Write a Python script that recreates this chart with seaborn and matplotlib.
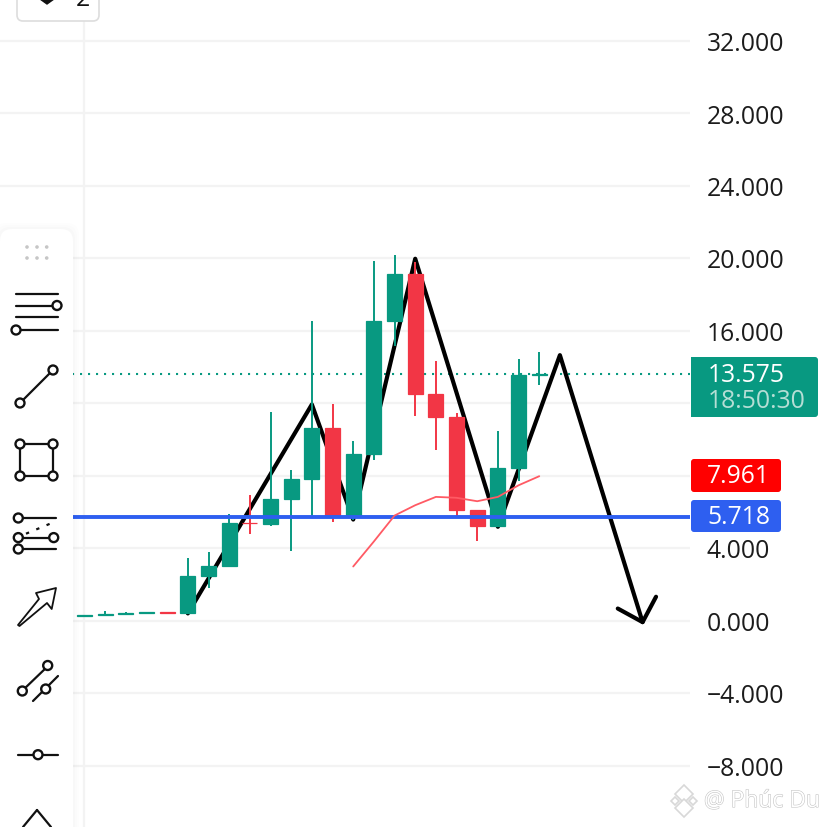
import pandas as pd
import seaborn as sns
import matplotlib.pyplot as plt
from matplotlib.patches import FancyBboxPatch, Circle, Polygon
import matplotlib.patheffects as pe

# candles, values in thousands
candle_idx = list(range(23))
opens = [0.25, 0.32, 0.36, 0.42, 0.46, 0.39, 2.43, 3.03, 5.39, 5.30, 6.71, 7.82, 10.61,
         5.75, 9.16, 16.55, 19.09, 12.47, 11.22, 6.07, 5.20, 8.42, 13.52]
closes = [0.32, 0.38, 0.42, 0.46, 0.42, 2.43, 3.03, 5.39, 5.36, 6.71, 7.82, 10.61, 5.75,
          9.16, 16.55, 19.09, 12.47, 11.22, 6.07, 5.20, 8.42, 13.52, 13.575]
highs = [0.32, 0.51, 0.47, 0.47, 0.46, 3.46, 3.79, 5.90, 6.91, 11.53, 8.31, 16.55, 11.97,
         9.91, 19.81, 20.14, 19.77, 14.31, 11.46, 6.12, 10.44, 14.44, 14.82]
lows = [0.25, 0.32, 0.36, 0.42, 0.42, 0.39, 1.78, 3.03, 4.76, 5.20, 3.85, 5.75, 5.42,
        5.53, 8.84, 15.13, 11.27, 9.43, 5.75, 4.38, 5.20, 7.69, 12.97]

# moving average
ma_idx = [13, 14, 15, 16, 17, 18, 19, 20, 21, 22]
ma_vals = [2.98, 4.36, 5.79, 6.36, 6.82, 6.77, 6.58, 6.82, 7.46, 7.961]

# hand drawn zigzag and arrow head
zigzag_idx = [5, 11, 13, 16, 20, 23, 27]
zigzag_vals = [0.39, 11.92, 5.57, 19.96, 5.17, 14.64, -0.09]
barb_idx = [25.8, 27, 27.65]
barb_vals = [0.66, -0.09, 1.31]

support = 5.718
last_price = 13.575
ma_last = 7.961

y_ticks = [32, 28, 24, 20, 16, 12, 8, 4, 0, -4, -8]
y_labels = ['32.000', '28.000', '24.000', '20.000', '16.000', '', '', '4.000', '0.000', '−4.000', '−8.000']

GREEN = '#089981'
RED = '#F23645'
BLUE = '#2E5FF0'
GRID = '#F3F3F3'
FONT = 'Open Sans'
FS = 17.8

sns.set_theme(style='white')
plt.rcParams['font.family'] = [FONT, 'DejaVu Sans']

df = pd.DataFrame({'idx': candle_idx, 'open': opens, 'close': closes, 'high': highs, 'low': lows})
df['bottom'] = df[['open', 'close']].min(axis=1)
df['height'] = (df['close'] - df['open']).abs()
df['color'] = [GREEN if c >= o else RED for o, c in zip(df['open'], df['close'])]

fig = plt.figure(figsize=(8.28, 8.28), dpi=100)
fig.patch.set_facecolor('white')
ax = fig.add_axes([0, 0, 690 / 828, 1])

# gridlines and the current-price lines
ax.set_xticks([0])
ax.set_xticklabels([''])
ax.set_yticks(y_ticks)
ax.set_yticklabels(y_labels, fontsize=FS, color='#1c1c1c')
ax.yaxis.tick_right()
ax.tick_params(axis='y', length=0, pad=12)
ax.tick_params(axis='x', length=0)
ax.grid(True, color=GRID, linewidth=1.6)
ax.set_axisbelow(True)
sns.despine(ax=ax, left=True, right=True, top=True, bottom=True)

ax.axhline(last_price, color=GREEN, linewidth=1.5, linestyle=(0, (1, 2.84)), zorder=1)

# black drawing sits under the candles
sns.lineplot(x=zigzag_idx, y=zigzag_vals, sort=False, estimator=None, color='black', linewidth=3, ax=ax, zorder=2)
sns.lineplot(x=barb_idx, y=barb_vals, sort=False, estimator=None, color='black', linewidth=3, ax=ax, zorder=2)

ax.vlines(df['idx'], df['low'], df['high'], colors=df['color'], linewidth=1.4, zorder=3)
ax.bar(df['idx'], df['height'], bottom=df['bottom'], width=0.72, color=df['color'],
       edgecolor=df['color'], linewidth=0.9, zorder=4)

ax.axhline(support, color=BLUE, linewidth=2.8, zorder=5)
sns.lineplot(x=ma_idx, y=ma_vals, sort=False, estimator=None, color='#FF5A64', linewidth=1.3, ax=ax, zorder=6)

ax.set_xlim(-84.5 / 20.67, (690 - 84.5) / 20.67)
ax.set_ylim(-206.5 / 18.125, 621.5 / 18.125)
ax.set_xlabel('')
ax.set_ylabel('')

# overlay in pixel coordinates for the app chrome
ui = fig.add_axes([0, 0, 1, 1], facecolor='none')
ui.set_xlim(0, 828)
ui.set_ylim(828, 0)
ui.axis('off')


def price_box(x0, y0, x1, y1, color):
    ui.add_patch(FancyBboxPatch((x0 + 3, y0 + 3), x1 - x0 - 6, y1 - y0 - 6, boxstyle='round,pad=3,rounding_size=3',
                                facecolor=color, edgecolor='none', zorder=5))


price_box(691, 358, 818, 418, GREEN)
ui.add_patch(plt.Rectangle((691, 358), 6, 60, facecolor=GREEN, edgecolor='none', zorder=5))
price_box(691, 460, 781, 493, '#FF0000')
price_box(691, 501, 781, 533, BLUE)
ui.text(708, 375.5, f'{last_price:.3f}', color='white', fontsize=FS, va='center', zorder=6)
ui.text(708, 402, '18:50:30', color='#B5DED5', fontsize=FS, va='center', zorder=6)
ui.text(707, 477, f'{ma_last:.3f}', color='white', fontsize=FS, va='center', zorder=6)
ui.text(707, 517.5, f'{support:.3f}', color='white', fontsize=FS, va='center', zorder=6)

# top button, cut off by the screen edge
ui.add_patch(FancyBboxPatch((22, -20), 72, 37, boxstyle='round,pad=5,rounding_size=6', facecolor='white',
                            edgecolor='#DDDDDD', linewidth=1.2, zorder=5))
ui.add_patch(Polygon([(40, 0), (54, 0), (47, 5)], facecolor='#111111', edgecolor='#111111', zorder=6))
ui.text(83, -1, '2', color='#111111', fontsize=FS, ha='center', va='center', zorder=6)

# left toolbar
for off, alpha in [(6, 0.006), (4, 0.008), (2, 0.012)]:
    ui.add_patch(FancyBboxPatch((0 - off, 230 - off), 73 + 2 * off, 640, boxstyle='round,pad=0,rounding_size=12',
                                facecolor='black', edgecolor='none', alpha=alpha, zorder=7))
ui.add_patch(FancyBboxPatch((0, 230), 73, 640, boxstyle='round,pad=0,rounding_size=12',
                            facecolor='white', edgecolor='none', zorder=8))

for px in [27, 37, 46.7]:
    for py in [248, 259]:
        ui.add_patch(Circle((px, py), 1.8, facecolor='#C6C6C6', edgecolor='none', zorder=9))


def seg(x0, y0, x1, y1, lw=1.6, **kw):
    ui.plot([x0, x1], [y0, y1], color='#111111', linewidth=lw, zorder=9, solid_capstyle='round', **kw)


def knob(x, y, r=4.5):
    ui.add_patch(Circle((x, y), r, facecolor='white', edgecolor='#111111', linewidth=1.7, zorder=10))


seg(16, 295, 58, 295)
seg(16, 306.5, 54, 306.5)
knob(57, 306.5)
seg(16, 318, 58, 318)
seg(18, 331, 58, 331)
knob(16, 331)

seg(20, 404, 53, 371)
knob(20, 404)
knob(53, 371)

seg(20, 445, 53, 445)
seg(20, 477, 53, 477)
seg(20, 445, 20, 477)
seg(53, 445, 53, 477)
for px, py in [(20, 445), (53, 445), (20, 477), (53, 477)]:
    knob(px, py)

seg(18, 519, 56, 519)
seg(18, 538.6, 54, 538.6)
seg(18, 550, 56, 550)
ui.plot([26, 53], [534.7, 523.5], color='#111111', linewidth=1.6, linestyle=(0, (1.5, 3.5)), zorder=9)
knob(18.3, 519)
knob(18.3, 538.6)
knob(53.7, 538.6)
knob(18.3, 550)

ui.add_patch(Polygon([(18, 626), (39, 600), (36, 594), (56, 589), (51.7, 610), (47, 604), (19.5, 627)], closed=True,
                     facecolor='white', edgecolor='#111111', linewidth=1.3, zorder=9, joinstyle='round'))

seg(22, 692, 48, 667)
knob(22.3, 692)
knob(47.7, 666.5)
seg(33, 702, 58, 677)
knob(45.7, 690)

seg(18, 755.7, 58, 755.7)
knob(38, 755.7)

seg(23, 828, 37, 811)
seg(37, 811, 51, 828)

# watermark
stroke = [pe.withStroke(linewidth=0.8, foreground='#C4C4C4')]
ui.text(704, 802, '@ Phúc Du', color='white', fontsize=16.5, va='center', path_effects=stroke, zorder=6)
for px, py, s in [(684, 795, 9), (684, 809, 9), (675, 802, 4), (693, 802, 4)]:
    ui.plot([px], [py], marker='D', markersize=s, markerfacecolor='white', markeredgecolor='#D8D8D8',
            markeredgewidth=1.2, zorder=6)

plt.savefig('out.png', dpi=100)
